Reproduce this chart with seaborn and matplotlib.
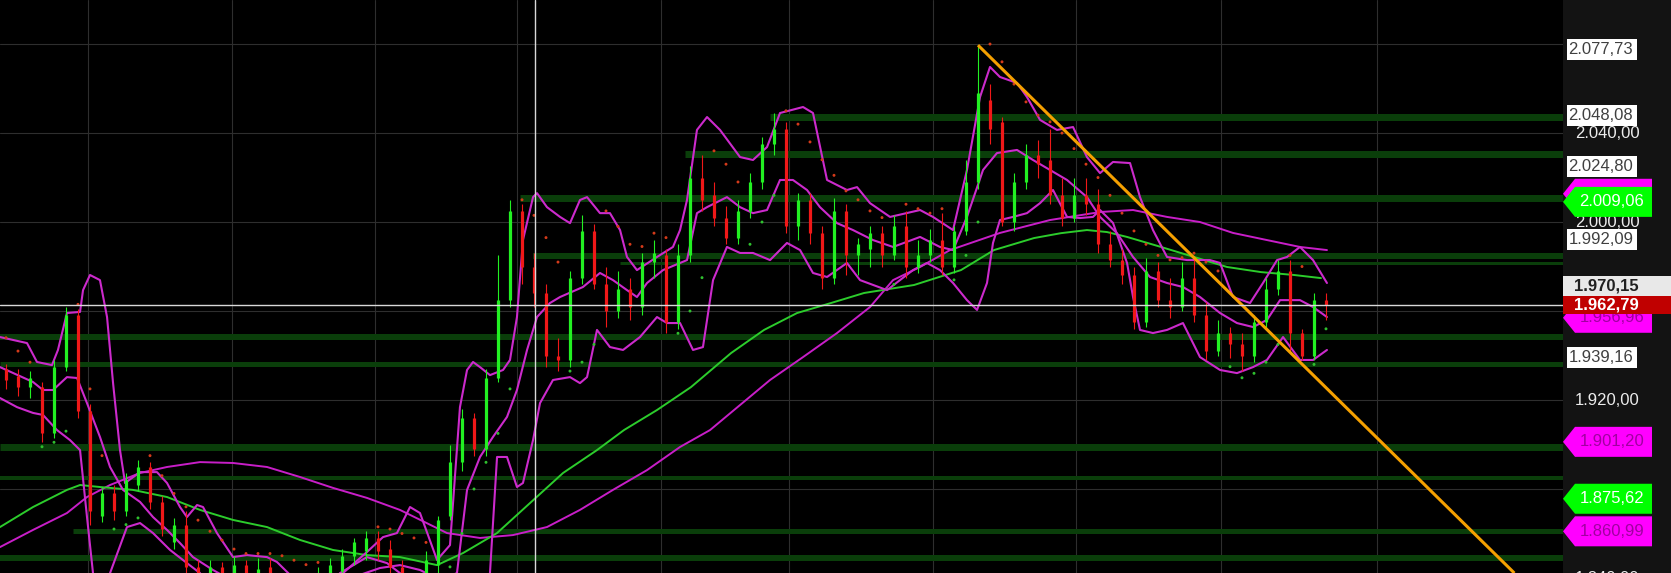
import matplotlib
matplotlib.use("Agg")
import matplotlib.pyplot as plt
import seaborn as sns
import pandas as pd
from matplotlib.patches import Polygon, Rectangle

sns.set_style("dark")
plt.rcParams['font.family'] = ['Liberation Sans', 'DejaVu Sans']

# 캔들 데이터 (bar 0 .. 110)
opens = [1934, 1931, 1926, 1926, 1905, 1935, 1958, 1915, 1868, 1878,
         1870, 1882, 1890, 1874, 1856, 1864, 1845, 1838, 1845, 1840,
         1846, 1841, 1845, 1836, 1832, 1836, 1838, 1840, 1843, 1850,
         1852, 1858, 1853, 1845, 1838, 1836, 1846, 1868, 1892, 1912,
         1898, 1930, 1965, 2005, 1980, 1968, 1940, 1938, 1975, 1996,
         1972, 1960, 1970, 1962, 1982, 1985, 1955, 1985, 2020, 2012,
         2002, 1993, 2005, 2018, 2035, 2042, 1998, 2010, 1995, 1975,
         2005, 1985, 1988, 1995, 1985, 1998, 1980, 1985, 1992, 1980,
         1996, 2018, 2055, 2045, 2000, 2018, 2030, 2028, 2012, 2002,
         2012, 2008, 1990, 1983, 1976, 1955, 1978, 1965, 1962, 1975,
         1958, 1942, 1950, 1945, 1940, 1955, 1970, 1978, 1950, 1940,
         1965]
highs = [1936, 1934, 1933, 1928, 1938, 1962, 1961, 1918, 1881, 1882,
         1887, 1893, 1892, 1877, 1867, 1870, 1848, 1848, 1847, 1850,
         1848, 1849, 1849, 1840, 1840, 1841, 1845, 1849, 1853, 1858,
         1861, 1861, 1857, 1848, 1842, 1852, 1868, 1900, 1916, 1914,
         1934, 1985, 2010, 2008, 1986, 1972, 1948, 1978, 2003, 1999,
         1980, 1978, 1975, 1986, 1992, 1988, 1990, 2025, 2030, 2018,
         2007, 2010, 2022, 2038, 2049, 2045, 2013, 2013, 1998, 2011,
         2008, 1993, 1998, 1998, 2003, 2005, 1992, 1997, 2004, 1998,
         2028, 2079.5, 2062, 2047, 2022, 2035, 2037, 2042, 2020, 2020,
         2020, 2015, 1996, 1988, 1980, 1984, 1982, 1975, 1982, 1984,
         1964, 1956, 1953, 1950, 1958, 1975, 1983, 1983, 1952, 1968,
         1968]
lows = [1925, 1922, 1921, 1901, 1903, 1933, 1912, 1864, 1865, 1866,
        1868, 1879, 1871, 1859, 1853, 1838, 1832, 1834, 1834, 1837,
        1836, 1837, 1830, 1826, 1828, 1832, 1834, 1837, 1840, 1846,
        1848, 1848, 1842, 1832, 1830, 1832, 1842, 1866, 1888, 1895,
        1895, 1928, 1962, 1972, 1962, 1935, 1933, 1935, 1972, 1970,
        1953, 1957, 1956, 1958, 1975, 1950, 1952, 1982, 2005, 1998,
        1990, 1990, 2002, 2015, 2030, 1995, 1992, 1990, 1970, 1972,
        1976, 1976, 1980, 1980, 1983, 1975, 1977, 1982, 1976, 1977,
        1994, 2015, 2035, 1998, 1996, 2015, 2020, 2008, 1998, 2000,
        2003, 1986, 1980, 1972, 1952, 1953, 1962, 1957, 1960, 1955,
        1938, 1940, 1939, 1933, 1937, 1952, 1967, 1942, 1938, 1938,
        1956]
closes = [1929, 1926, 1930, 1905, 1935, 1958, 1915, 1870, 1878, 1870,
          1884, 1890, 1874, 1862, 1864, 1845, 1838, 1845, 1840, 1846,
          1841, 1844, 1836, 1832, 1836, 1838, 1842, 1846, 1850, 1856,
          1858, 1852, 1845, 1838, 1836, 1848, 1866, 1892, 1912, 1898,
          1930, 1965, 2005, 1980, 1968, 1940, 1938, 1975, 1996, 1972,
          1960, 1970, 1962, 1982, 1986, 1955, 1985, 2020, 2010, 2002,
          1993, 2005, 2018, 2035, 2042, 1998, 2010, 1995, 1975, 2005,
          1985, 1990, 1995, 1985, 1998, 1980, 1985, 1992, 1980, 1996,
          2018, 2058, 2042, 2000, 2018, 2030, 2026, 2012, 2002, 2012,
          2008, 1990, 1983, 1976, 1955, 1978, 1965, 1962, 1975, 1958,
          1942, 1950, 1945, 1940, 1955, 1970, 1978, 1950, 1940, 1965,
          1962.79]

# 파라볼릭 SAR (bar 당 1개)
sar = [1948, 1942, 1937, 1899, 1901, 1906, 1963, 1925, 1895, 1862,
       1864, 1867, 1895, 1886, 1878, 1872, 1866, 1861, 1857, 1853,
       1851, 1851, 1851, 1850, 1848, 1846, 1847, 1826, 1828, 1831,
       1835, 1863, 1862, 1860, 1858, 1856, 1836, 1845, 1860, 1880,
       1892, 1905, 1925, 2010, 2003, 1993, 1982, 1933, 1937, 1945,
       2005, 1998, 1990, 1989, 1995, 1993, 1950, 1960, 1975, 2032,
       2026, 2018, 1990, 2000, 2012, 2050, 2044, 2036, 2028, 2021,
       2014, 2010, 2005, 2002, 1972, 2008, 2006, 2004, 2006, 1974,
       1985, 2000, 2080, 2072, 2062, 2054, 2048, 2045, 2040, 2033,
       2026, 2020, 2012, 2004, 1996, 1990, 1985, 1983, 1984, 1986,
       1982, 1978, 1935, 1930, 1932, 1937, 1945, 1985, 1980, 1936,
       1952]

# 볼린저 밴드 (상단 / 중간 / 하단)
upper_x = [-0.5, 1.75, 2.58, 3.83, 4.33, 5.08, 6.17, 6.42, 7.0, 7.83, 8.42, 8.92, 9.5, 9.92,
           11.17, 12.58, 13.42, 14.5, 15.08, 15.92, 16.42, 17.58, 18.92, 20.08, 21.75, 22.58,
           23.67, 26.17, 28.08, 30.08, 31.42, 32.58, 33.67, 34.5, 35.92, 37.0, 37.83, 38.42,
           38.92, 39.5, 40.33, 41.42, 42.0, 42.58, 43.08, 43.92, 44.25, 45.08, 46.17, 47.0,
           47.83, 48.42, 49.5, 50.33, 51.17, 51.75, 52.58, 54.25, 55.58, 56.17, 56.75, 57.58,
           58.42, 59.5, 61.17, 62.25, 63.42, 64.5, 66.42, 67.25, 68.42, 70.08, 70.92, 72.0,
           73.67, 76.17, 77.25, 78.92, 80.08, 81.17, 82.0, 82.83, 84.25, 85.08, 86.17, 87.58,
           88.92, 90.08, 91.17, 92.25, 93.67, 94.5, 95.58, 96.75, 98.42, 100.33, 101.17,
           102.25, 103.67, 104.75, 105.92, 106.75, 107.83, 108.92, 110.08]
upper = [1948.3, 1945.6, 1937.1, 1935.7, 1942.5, 1959.1, 1959.6, 1969.4, 1976.2, 1973.9,
         1957.3, 1927.7, 1897.5, 1882.7, 1887.6, 1887.6, 1882.7, 1871.9, 1867.4, 1872.8,
         1871.9, 1860.2, 1849.4, 1850.3, 1849.4, 1847.2, 1841.4, 1839.1, 1842.2, 1851.7,
         1858.4, 1860.2, 1871.9, 1869.2, 1848.1, 1854.8, 1916.8, 1933.5, 1937.1, 1934.8,
         1931.2, 1933.5, 1938.0, 1957.3, 1991.9, 2011.2, 2013.0, 2006.7, 2002.3, 1999.5,
         2009.9, 2011.2, 2004.0, 2004.0, 1996.4, 1984.3, 1978.4, 1984.3, 1988.8, 1996.4,
         2009.9, 2041.4, 2047.2, 2041.4, 2029.2, 2027.9, 2033.7, 2049.0, 2051.7, 2049.0,
         2018.9, 2014.4, 2015.7, 2008.5, 2002.3, 2005.4, 2002.3, 1996.4, 2023.4, 2056.2,
         2069.7, 2065.2, 2062.5, 2056.2, 2045.9, 2041.4, 2042.7, 2029.2, 2022.0, 2027.0,
         2026.5, 2011.2, 1996.4, 1984.3, 1982.9, 1982.9, 1981.6, 1966.3, 1963.6, 1972.6,
         1982.9, 1984.3, 1988.8, 1982.9, 1972.6]

mid_x = [-0.5, 2.25, 3.08, 3.92, 5.08, 5.92, 6.75, 7.83, 8.67, 9.75, 11.17, 12.25, 13.42,
         14.5, 15.58, 17.25, 19.5, 22.83, 26.17, 29.5, 31.17, 32.83, 34.5, 36.17, 37.58,
         38.42, 39.5, 40.58, 41.75, 42.58, 43.42, 44.25, 45.33, 46.17, 48.08, 49.5, 50.58,
         51.75, 52.58, 53.42, 54.75, 56.75, 57.58, 58.42, 60.08, 61.17, 62.25, 63.42, 64.5,
         65.58, 66.75, 67.83, 69.25, 70.58, 72.25, 73.92, 76.17, 77.83, 78.92, 80.08, 81.42,
         82.58, 84.25, 85.58, 87.0, 88.42, 90.08, 91.17, 92.58, 93.92, 95.33, 96.75, 98.08,
         99.5, 101.17, 102.58, 103.92, 105.08, 106.17, 107.83, 108.92, 110.08]
mid = [1934.8, 1928.1, 1924.5, 1924.5, 1930.3, 1929.9, 1918.6, 1903.4, 1889.9, 1879.6,
       1874.2, 1867.4, 1861.6, 1855.7, 1849.4, 1843.6, 1836.8, 1832.4, 1834.6, 1841.4,
       1844.5, 1845.8, 1843.6, 1839.1, 1842.2, 1879.6, 1894.4, 1903.4, 1912.4, 1924.5,
       1942.5, 1957.3, 1963.6, 1966.3, 1970.8, 1977.1, 1973.9, 1969.4, 1966.3, 1972.6,
       1978.4, 1982.9, 2004.0, 2006.7, 2011.2, 2006.7, 2004.0, 2005.4, 2018.9, 2018.9,
       2014.4, 2006.7, 1999.5, 1996.4, 1991.9, 1988.8, 1993.3, 1988.8, 1987.4, 2002.3,
       2023.4, 2031.0, 2032.4, 2027.9, 2023.4, 2018.9, 2011.2, 2002.3, 1995.0, 1984.3,
       1975.3, 1972.6, 1970.8, 1966.3, 1959.1, 1954.6, 1952.8, 1956.0, 1964.9, 1964.9,
       1961.8, 1957.3]

lower_x = [-0.5, 0.92, 2.25, 3.08, 4.25, 5.33, 6.17, 6.75, 7.25, 7.83, 8.67, 10.08, 11.17,
           12.25, 13.67, 15.08, 16.17, 17.42, 21.17, 26.17, 27.83, 30.08, 31.75, 32.83, 34.5,
           37.83, 39.92, 40.33, 40.92, 41.75, 42.58, 43.08, 43.92, 44.5, 45.58, 47.0, 47.83,
           48.42, 49.25, 50.33, 51.42, 52.83, 54.25, 55.08, 56.17, 57.25, 58.08, 58.92, 60.08,
           61.17, 62.25, 63.67, 65.08, 66.17, 67.25, 68.42, 70.08, 71.17, 73.42, 75.58, 76.75,
           77.83, 78.92, 80.08, 80.92, 81.75, 82.25, 82.83, 83.92, 85.08, 86.17, 87.25, 88.42,
           89.5, 90.58, 91.17, 92.25, 93.42, 93.92, 94.5, 95.58, 96.75, 98.08, 99.5, 101.17,
           102.58, 103.92, 105.08, 106.42, 107.83, 108.92, 110.08]
lower = [1920.9, 1916.8, 1914.2, 1913.3, 1906.5, 1902.0, 1897.5, 1867.4, 1842.2, 1830.1,
         1842.2, 1862.9, 1864.7, 1860.2, 1852.6, 1846.7, 1842.2, 1830.1, 1825.6, 1830.1,
         1842.2, 1849.4, 1846.7, 1842.2, 1830.1, 1821.1, 1830.1, 1842.2, 1894.4, 1894.4,
         1880.9, 1882.7, 1902.0, 1918.6, 1929.0, 1930.3, 1927.6, 1930.3, 1951.5, 1943.8,
         1942.5, 1948.3, 1957.3, 1954.6, 1954.6, 1942.5, 1943.8, 1973.9, 1988.8, 1986.1,
         1986.1, 1982.9, 1990.6, 1987.4, 1977.1, 1975.3, 1981.6, 1973.9, 1969.4, 1978.4,
         1981.6, 1978.4, 1972.6, 1964.9, 1960.5, 1972.6, 1990.6, 2000.9, 2002.3, 2004.0,
         2008.5, 2014.4, 2002.3, 2001.8, 2002.3, 2005.4, 1999.6, 1981.6, 1966.3, 1951.5,
         1950.1, 1951.5, 1954.6, 1939.3, 1933.5, 1932.1, 1934.8, 1938.0, 1948.3, 1938.0,
         1938.0, 1942.5]

# 장기 이동평균 (마젠타 / 그린)
ma_long_x = [-0.5, 2.25, 5.08, 6.75, 8.67, 11.17, 13.42, 16.17, 18.92, 21.75, 24.5, 27.25,
             30.08, 32.83, 36.75, 39.5, 42.25, 45.08, 47.83, 50.58, 53.42, 56.17, 58.67,
             63.67, 66.42, 69.25, 72.0, 73.92, 76.17, 78.67, 82.83, 87.0, 91.17, 93.92,
             96.75, 99.5, 102.25, 105.08, 107.83, 110.08]
ma_long = [1853.9, 1861.6, 1869.2, 1876.4, 1881.8, 1887.2, 1889.9, 1892.1, 1891.7, 1889.9,
           1885.4, 1880.5, 1876.0, 1870.6, 1860.2, 1858.0, 1859.3, 1862.9, 1870.6, 1879.6,
           1888.5, 1898.9, 1906.5, 1929.0, 1939.3, 1950.1, 1961.8, 1973.9, 1979.8, 1987.4,
           1995.1, 2000.9, 2004.5, 2005.4, 2002.3, 2000.0, 1995.1, 1991.9, 1988.8, 1987.4]

ma_green_x = [-0.5, 2.25, 5.08, 6.17, 7.83, 10.58, 13.42, 16.17, 18.92, 21.75, 24.5, 27.25,
              30.08, 32.83, 35.92, 38.08, 40.92, 43.67, 46.42, 49.25, 51.5, 54.25, 57.08,
              60.42, 63.17, 65.92, 68.75, 71.5, 75.67, 79.58, 82.33, 85.67, 87.92, 90.08,
              91.75, 93.42, 96.25, 99.0, 101.75, 104.58, 107.33, 109.58]
ma_green = [1862.9, 1871.9, 1879.6, 1881.8, 1880.9, 1879.6, 1876.4, 1870.6, 1866.1, 1862.9,
            1857.1, 1852.6, 1850.3, 1849.4, 1845.8, 1851.2, 1860.2, 1873.7, 1887.2, 1897.5,
            1906.5, 1915.5, 1925.8, 1941.1, 1951.5, 1959.1, 1963.6, 1968.1, 1971.7, 1978.4,
            1987.4, 1992.8, 1995.0, 1996.4, 1995.5, 1993.3, 1988.8, 1984.3, 1979.8, 1977.5,
            1976.2, 1974.8]

# 지지/저항 레벨
levels = [2047.2, 2030.6, 2010.8, 1984.7, 1981.6, 1948.3, 1936.2, 1899.0, 1885.0, 1861.1, 1849.0]
level_from = [63.7, 56.6, 42.8, 43.9, 51.2, -0.5, -0.5, -0.5, -0.5, 5.6, -0.5]
level_px = [7, 7, 7, 6, 3, 6, 5, 7, 4, 5, 6]

# 추세선
trend_x = [81, 125.7]
trend_y = [2079.5, 1842.2]

time_grid = [6.83, 18.83, 30.75, 42.58, 54.58, 65.25, 77.25, 89.17, 101.25, 114.25]
price_grid = [2080, 2040, 2000, 1960, 1920, 1880, 1840]
tick_prices = [2040, 2000, 1920, 1840]
tick_text = ['2.040,00', '2.000,00', '1.920,00', '1.840,00']
cursor_bar = 44.08
last_price = 1962.79

box_prices = [2077.73, 2048.08, 2024.80, 1992.09, 1939.16]
box_text = ['2.077,73', '2.048,08', '2.024,80', '1.992,09', '1.939,16']
arrow_prices = [1956.96, 1901.20, 1875.62, 1860.99, 2012.7, 2009.06]
arrow_text = ['1.956,96', '1.901,20', '1.875,62', '1.860,99', '', '2.009,06']
arrow_kind = ['m', 'm', 'g', 'm', 'm', 'g']

YLIM = (1842.25, 2099.8)
PX = (YLIM[1] - YLIM[0]) / 573  # price per pixel


def draw_candles(ax, df):
    up = df['close'] >= df['open']
    cols = ['#22f022' if u else '#f01818' for u in up]
    ax.vlines(df.index, df['low'], df['high'], colors=cols, lw=0.8, zorder=4)
    lo = df[['open', 'close']].min(axis=1)
    hi = df[['open', 'close']].max(axis=1)
    ax.vlines(df.index, lo, hi, colors=cols, lw=2.3, zorder=4)

    # SAR 점
    above = df['sar'] > df['close']
    dot_cols = ['#d43a1a' if a else '#2fc02f' for a in above]
    ax.scatter(df.index, df['sar'], s=4.5, c=dot_cols, linewidths=0, zorder=4)


def draw_panel(pax):
    for p, t in zip(tick_prices, tick_text):
        pax.text(44.5, p, t, color='#ececec', fontsize=12, ha='center', va='center',
                 zorder=2, clip_on=True)
    h = 21 * PX
    for p, t in zip(box_prices, box_text):
        pax.add_patch(Rectangle((4, p - h / 2), 70, h, fc='white', ec='none', zorder=3))
        pax.text(5.5, p, t, color='#404040', fontsize=12, ha='left', va='center', zorder=4)
    ah = 30 * PX
    for p, t, k in zip(arrow_prices, arrow_text, arrow_kind):
        fc = '#ff00ff' if k == 'm' else '#00ff00'
        tc = '#a000a0' if k == 'm' else 'white'
        pax.add_patch(Polygon([(0, p), (12, p + ah / 2), (89, p + ah / 2),
                               (89, p - ah / 2), (12, p - ah / 2)],
                              closed=True, fc=fc, ec='none', zorder=5))
        pax.text(49, p, t, color=tc, fontsize=12, ha='center', va='center', zorder=6)
    # 커서 / 현재가 라벨
    pax.add_patch(Rectangle((0, 1971.1 - h / 2), 108, h, fc='#e8e8e8', ec='none', zorder=7))
    pax.text(43.5, 1971.1, '1.970,15', color='#202020', fontsize=12, fontweight='bold',
             ha='center', va='center', zorder=8)
    rh = 18 * PX
    pax.add_patch(Rectangle((0, last_price - rh / 2), 108, rh, fc='#c00000', ec='none', zorder=9))
    pax.text(43.5, last_price, '1.962,79', color='white', fontsize=12, fontweight='bold',
             ha='center', va='center', zorder=10)


def main():
    df = pd.DataFrame({'open': opens, 'high': highs, 'low': lows, 'close': closes, 'sar': sar})

    fig = plt.figure(figsize=(16.71, 5.73), dpi=100, facecolor='black')
    ax = fig.add_axes([0, 0, 1563 / 1671, 1])
    pax = fig.add_axes([1563 / 1671, 0, 108 / 1671, 1])
    ax.set_facecolor('black')
    pax.set_facecolor('#131313')

    for g in time_grid:
        ax.axvline(g, color='#2e2e2e', lw=0.8, zorder=0)
    for p in price_grid:
        ax.axhline(p, color='#2e2e2e', lw=0.8, zorder=0)

    for lv, x0, w in zip(levels, level_from, level_px):
        ax.hlines(lv, x0, 200, color='#0a3e0a', lw=w * 0.72, zorder=1)

    sns.lineplot(x=ma_long_x, y=ma_long, ax=ax, color='#c81ec8', lw=1.4, sort=False,
                 estimator=None, zorder=2)
    sns.lineplot(x=ma_green_x, y=ma_green, ax=ax, color='#2ccc2c', lw=1.4, sort=False,
                 estimator=None, zorder=2)
    for bx, by in [(upper_x, upper), (mid_x, mid), (lower_x, lower)]:
        sns.lineplot(x=bx, y=by, ax=ax, color='#cc2acc', lw=1.5, sort=False,
                     estimator=None, zorder=3)

    draw_candles(ax, df)

    ax.plot(trend_x, trend_y, color='#f5a000', lw=2.2, zorder=6, solid_capstyle='butt')

    ax.axvline(cursor_bar, color='#d8d8d8', lw=1, zorder=7)
    ax.axhline(last_price, color='#d8d8d8', lw=1, zorder=7)

    ax.set_xlim(-0.5, 129.75)
    ax.set_ylim(*YLIM)
    pax.set_xlim(0, 108)
    pax.set_ylim(*YLIM)
    for a in (ax, pax):
        a.set_xticks([])
        a.set_yticks([])
        a.set_xlabel('')
        a.set_ylabel('')
        for s in a.spines.values():
            s.set_visible(False)

    draw_panel(pax)

    fig.savefig('out.png', dpi=100, facecolor='black')
    plt.close(fig)


if __name__ == "__main__":
    main()
